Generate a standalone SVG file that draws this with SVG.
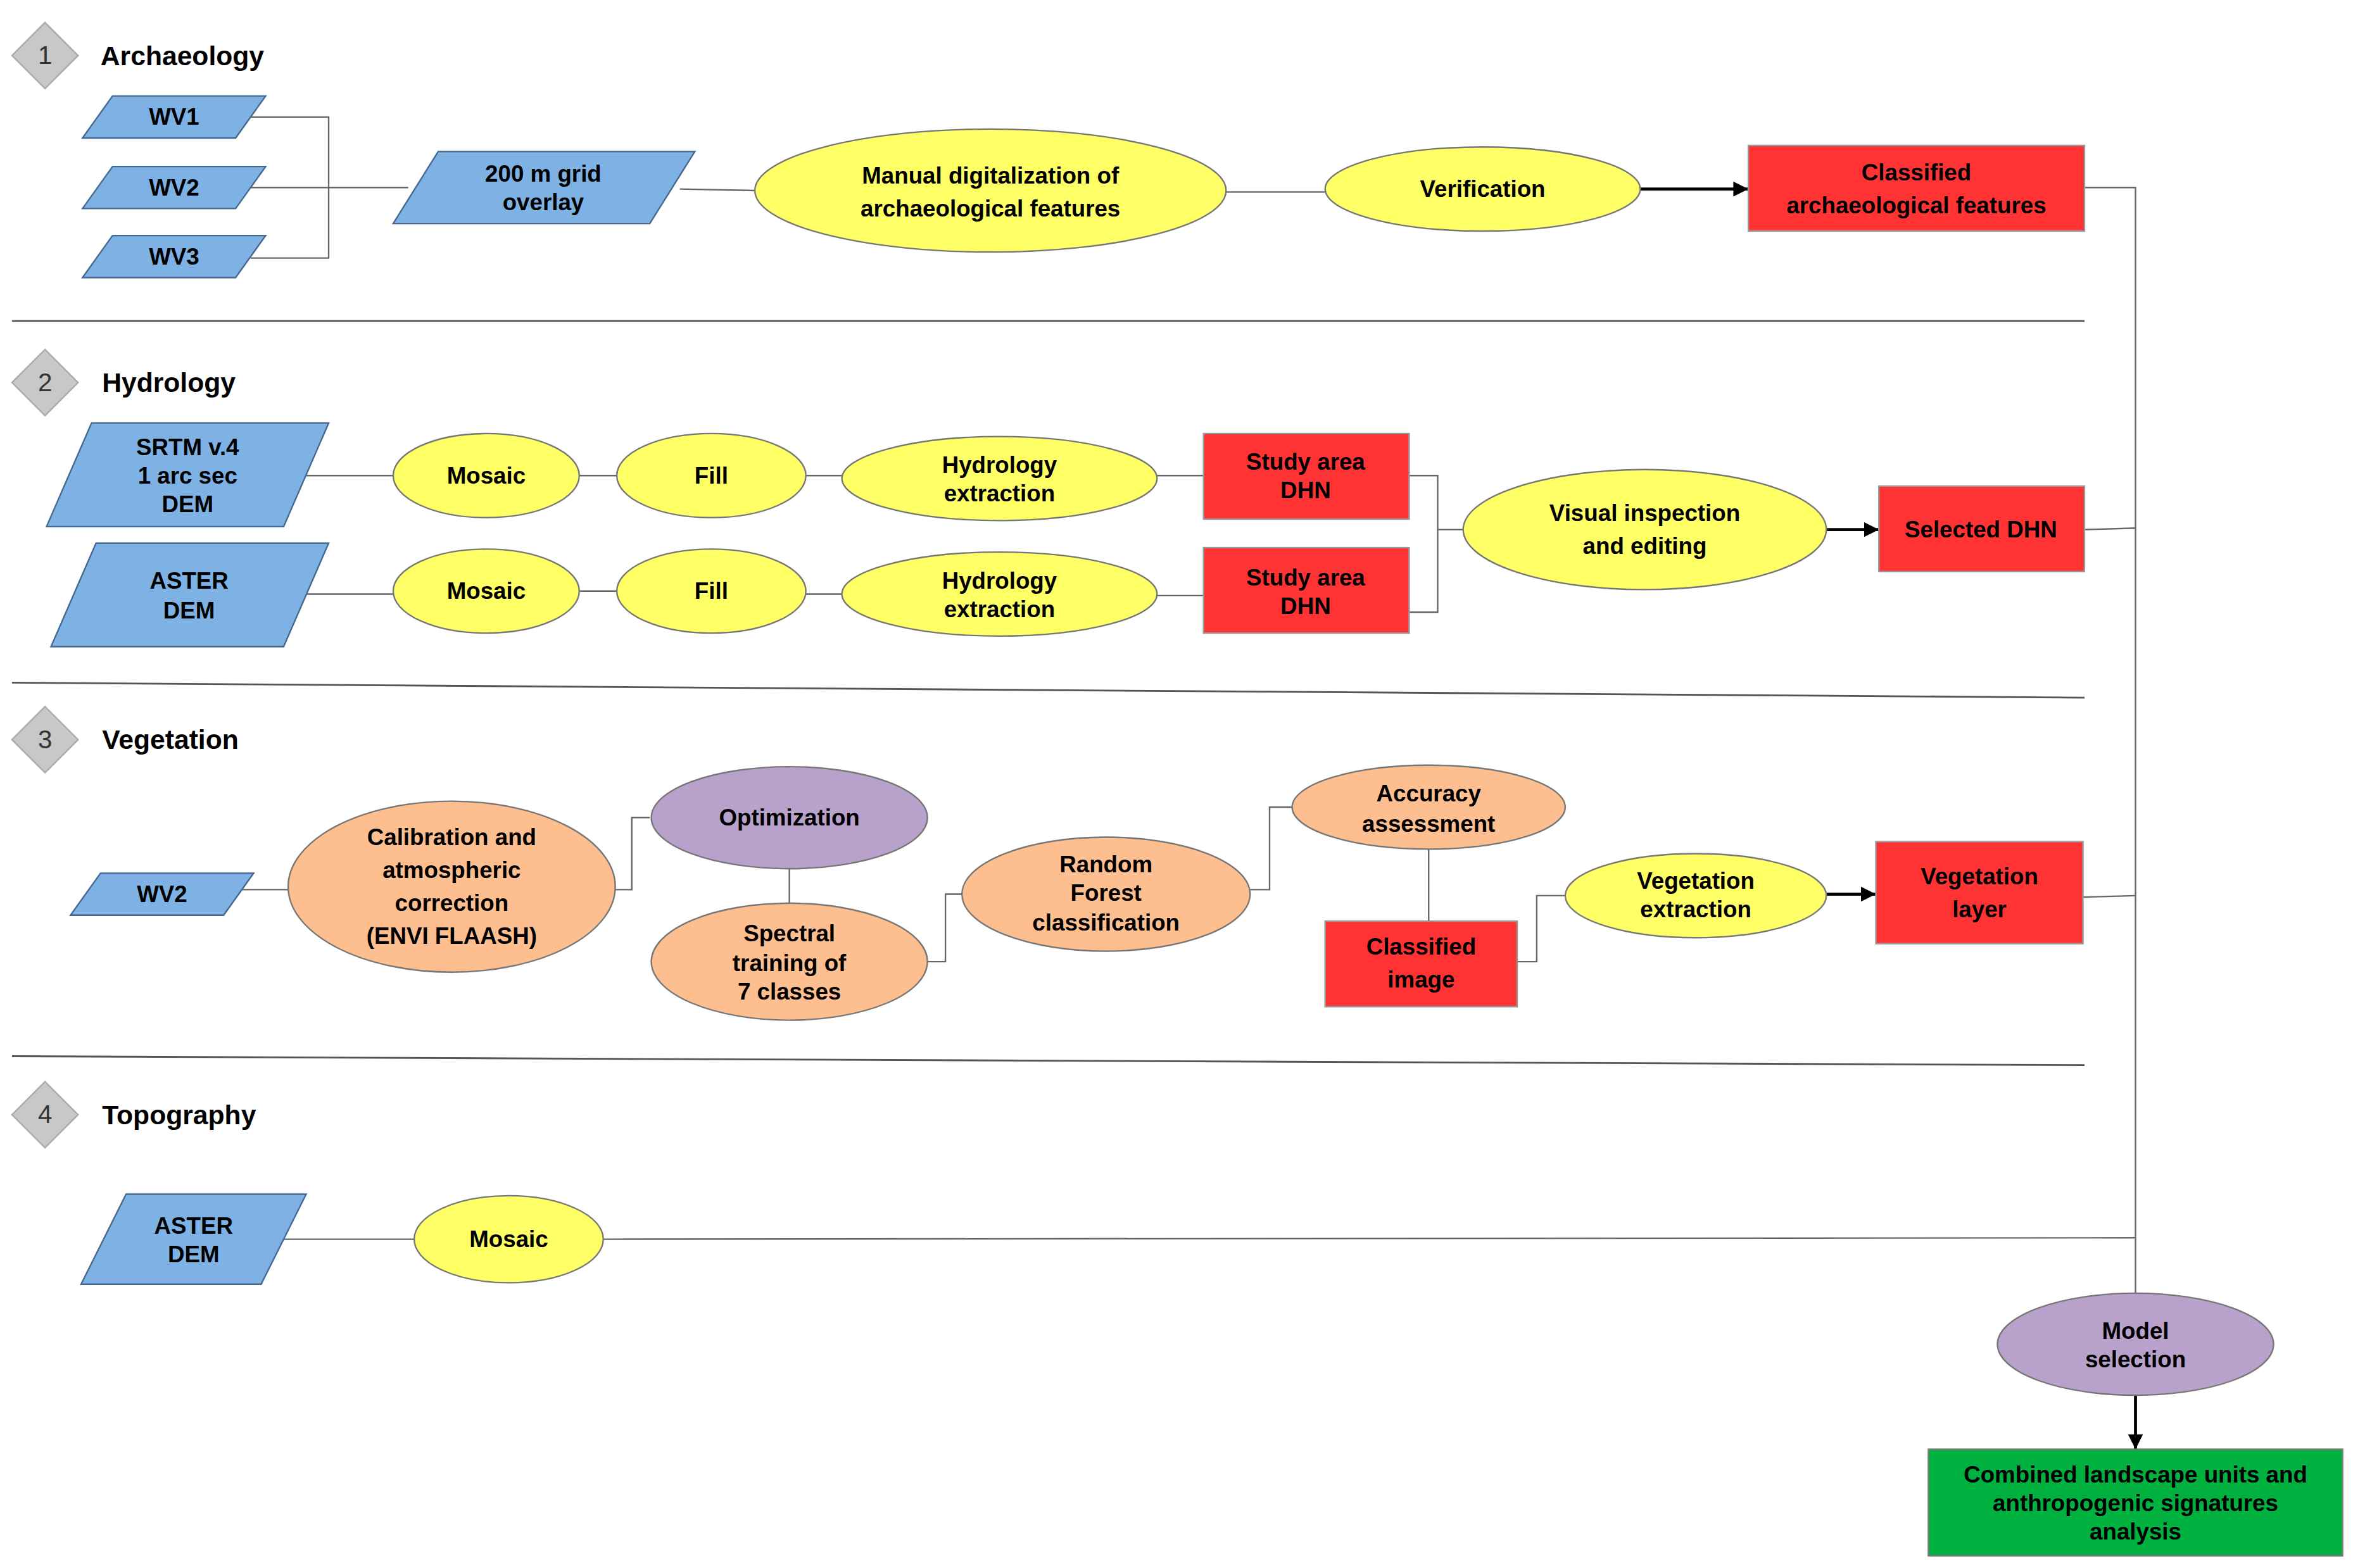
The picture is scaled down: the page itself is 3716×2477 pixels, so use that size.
<svg xmlns="http://www.w3.org/2000/svg" width="3716" height="2477" viewBox="0 0 3716 2477">
<defs>
<marker id="ah" viewBox="0 0 10 10" refX="10" refY="5" markerWidth="5" markerHeight="5" orient="auto"><path d="M0,0L10,5L0,10z" fill="#000"/></marker>
<style>
.t{font-family:"Liberation Sans",Arial,sans-serif;font-weight:bold;font-size:15.5px;fill:#000;text-anchor:middle;dominant-baseline:central}
.h{font-family:"Liberation Sans",Arial,sans-serif;font-weight:bold;font-size:18px;fill:#000;dominant-baseline:central}
.n{font-family:"Liberation Sans",Arial,sans-serif;font-size:17px;fill:#333;text-anchor:middle;dominant-baseline:central}
.b{fill:#7eb2e4;stroke:#44688f;stroke-width:1}
.y{fill:#ffff66;stroke:#777;stroke-width:1}
.o{fill:#fdbf8f;stroke:#777;stroke-width:1}
.p{fill:#b8a2cb;stroke:#777;stroke-width:1}
.r{fill:#ff3333;stroke:#999;stroke-width:1}
.g{fill:#00b140;stroke:#777;stroke-width:1}
.d{fill:#c8c8c8;stroke:#aaa;stroke-width:1}
.l{fill:none;stroke:#666;stroke-width:1}
.a{fill:none;stroke:#000;stroke-width:2;marker-end:url(#ah)}
.s{fill:none;stroke:#555;stroke-width:1.2}
</style>
</defs>
<rect width="3716" height="2477" fill="#fff"/>
<g transform="scale(2.37)">
<g id="connectors">
<path class="l" d="M167,78H219V172H167M167,125H272M453,126L503,127M817,128H883M1389,125H1423V862"/>
<path class="a" d="M1093,126H1165"/>
<path class="l" d="M204,317H262M386,317H411M537,317H561M771,317H802M204,396H262M386,394H411M537,396H561M771,397H802M939,317H958V408H939M958,353H975M1389,353L1423,352"/>
<path class="a" d="M1217,353H1252"/>
<path class="l" d="M159,593H192M410,593H421V545H433M526,579V602M618,641H630V596H641M833,593H846V538H861M952,566V614M1011,641H1024V597H1044M1388,598L1423,597"/>
<path class="a" d="M1217,596H1250"/>
<path class="l" d="M189,826H276M402,826L1423,825"/>
<path class="a" d="M1423,930V966"/>
<path class="s" d="M8,214H1389M8,455L1389,465M8,704L1389,710"/>
</g>
<g id="sec1"><path class="d" d="M30,15L52,37L30,59L8,37z"/><text class="n" x="30" y="37">1</text><text class="h" x="67" y="37">Archaeology</text></g>
<g id="wv1"><path class="b" d="M55,92L75,64H177L157,92z"/><text class="t" x="116" y="78">WV1</text></g>
<g id="wv2a"><path class="b" d="M55,139L75,111H177L157,139z"/><text class="t" x="116" y="125">WV2</text></g>
<g id="wv3"><path class="b" d="M55,185L75,157H177L157,185z"/><text class="t" x="116" y="171">WV3</text></g>
<g id="grid"><path class="b" d="M262,149L292,101H463L433,149z"/><text class="t" x="362" y="116">200 m grid</text><text class="t" x="362" y="135">overlay</text></g>
<g id="manual"><ellipse class="y" cx="660" cy="127" rx="157" ry="41"/><text class="t" x="660" y="117">Manual digitalization of</text><text class="t" x="660" y="139">archaeological features</text></g>
<g id="verif"><ellipse class="y" cx="988" cy="126" rx="105" ry="28"/><text class="t" x="988" y="126">Verification</text></g>
<g id="classArch"><rect class="r" x="1165" y="97" width="224" height="57"/><text class="t" x="1277" y="115">Classified</text><text class="t" x="1277" y="137">archaeological features</text></g>

<g id="sec2"><path class="d" d="M30,233L52,255L30,277L8,255z"/><text class="n" x="30" y="255">2</text><text class="h" x="68" y="255">Hydrology</text></g>
<g id="srtm"><path class="b" d="M31,351L61,282H219L189,351z"/><text class="t" x="125" y="298">SRTM v.4</text><text class="t" x="125" y="317">1 arc sec</text><text class="t" x="125" y="336">DEM</text></g>
<g id="aster1"><path class="b" d="M34,431L64,362H219L189,431z"/><text class="t" x="126" y="387">ASTER</text><text class="t" x="126" y="407">DEM</text></g>
<g id="mos1"><ellipse class="y" cx="324" cy="317" rx="62" ry="28"/><text class="t" x="324" y="317">Mosaic</text></g>
<g id="fill1"><ellipse class="y" cx="474" cy="317" rx="63" ry="28"/><text class="t" x="474" y="317">Fill</text></g>
<g id="hyd1"><ellipse class="y" cx="666" cy="319" rx="105" ry="28"/><text class="t" x="666" y="310">Hydrology</text><text class="t" x="666" y="329">extraction</text></g>
<g id="dhn1"><rect class="r" x="802" y="289" width="137" height="57"/><text class="t" x="870" y="308">Study area</text><text class="t" x="870" y="327">DHN</text></g>
<g id="mos2"><ellipse class="y" cx="324" cy="394" rx="62" ry="28"/><text class="t" x="324" y="394">Mosaic</text></g>
<g id="fill2"><ellipse class="y" cx="474" cy="394" rx="63" ry="28"/><text class="t" x="474" y="394">Fill</text></g>
<g id="hyd2"><ellipse class="y" cx="666" cy="396" rx="105" ry="28"/><text class="t" x="666" y="387">Hydrology</text><text class="t" x="666" y="406">extraction</text></g>
<g id="dhn2"><rect class="r" x="802" y="365" width="137" height="57"/><text class="t" x="870" y="385">Study area</text><text class="t" x="870" y="404">DHN</text></g>
<g id="visual"><ellipse class="y" cx="1096" cy="353" rx="121" ry="40"/><text class="t" x="1096" y="342">Visual inspection</text><text class="t" x="1096" y="364">and editing</text></g>
<g id="seldhn"><rect class="r" x="1252" y="324" width="137" height="57"/><text class="t" x="1320" y="353">Selected DHN</text></g>

<g id="sec3"><path class="d" d="M30,471L52,493L30,515L8,493z"/><text class="n" x="30" y="493">3</text><text class="h" x="68" y="493">Vegetation</text></g>
<g id="wv2b"><path class="b" d="M47,610L67,582H169L149,610z"/><text class="t" x="108" y="596">WV2</text></g>
<g id="calib"><ellipse class="o" cx="301" cy="591" rx="109" ry="57"/><text class="t" x="301" y="558">Calibration and</text><text class="t" x="301" y="580">atmospheric</text><text class="t" x="301" y="602">correction</text><text class="t" x="301" y="624">(ENVI FLAASH)</text></g>
<g id="optim"><ellipse class="p" cx="526" cy="545" rx="92" ry="34"/><text class="t" x="526" y="545">Optimization</text></g>
<g id="spectral"><ellipse class="o" cx="526" cy="641" rx="92" ry="39"/><text class="t" x="526" y="622">Spectral</text><text class="t" x="526" y="642">training of</text><text class="t" x="526" y="661">7 classes</text></g>
<g id="rf"><ellipse class="o" cx="737" cy="596" rx="96" ry="38"/><text class="t" x="737" y="576">Random</text><text class="t" x="737" y="595">Forest</text><text class="t" x="737" y="615">classification</text></g>
<g id="acc"><ellipse class="o" cx="952" cy="538" rx="91" ry="28"/><text class="t" x="952" y="529">Accuracy</text><text class="t" x="952" y="549">assessment</text></g>
<g id="climg"><rect class="r" x="883" y="614" width="128" height="57"/><text class="t" x="947" y="631">Classified</text><text class="t" x="947" y="653">image</text></g>
<g id="vegext"><ellipse class="y" cx="1130" cy="597" rx="87" ry="28"/><text class="t" x="1130" y="587">Vegetation</text><text class="t" x="1130" y="606">extraction</text></g>
<g id="veglayer"><rect class="r" x="1250" y="561" width="138" height="68"/><text class="t" x="1319" y="584">Vegetation</text><text class="t" x="1319" y="606">layer</text></g>

<g id="sec4"><path class="d" d="M30,721L52,743L30,765L8,743z"/><text class="n" x="30" y="743">4</text><text class="h" x="68" y="743">Topography</text></g>
<g id="aster2"><path class="b" d="M54,856L84,796H204L174,856z"/><text class="t" x="129" y="817">ASTER</text><text class="t" x="129" y="836">DEM</text></g>
<g id="mos3"><ellipse class="y" cx="339" cy="826" rx="63" ry="29"/><text class="t" x="339" y="826">Mosaic</text></g>
<g id="model"><ellipse class="p" cx="1423" cy="896" rx="92" ry="34"/><text class="t" x="1423" y="887">Model</text><text class="t" x="1423" y="906">selection</text></g>
<g id="combined"><rect class="g" x="1285" y="966" width="276" height="71"/><text class="t" x="1423" y="983">Combined landscape units and</text><text class="t" x="1423" y="1002">anthropogenic signatures</text><text class="t" x="1423" y="1021">analysis</text></g>
</g>
</svg>
